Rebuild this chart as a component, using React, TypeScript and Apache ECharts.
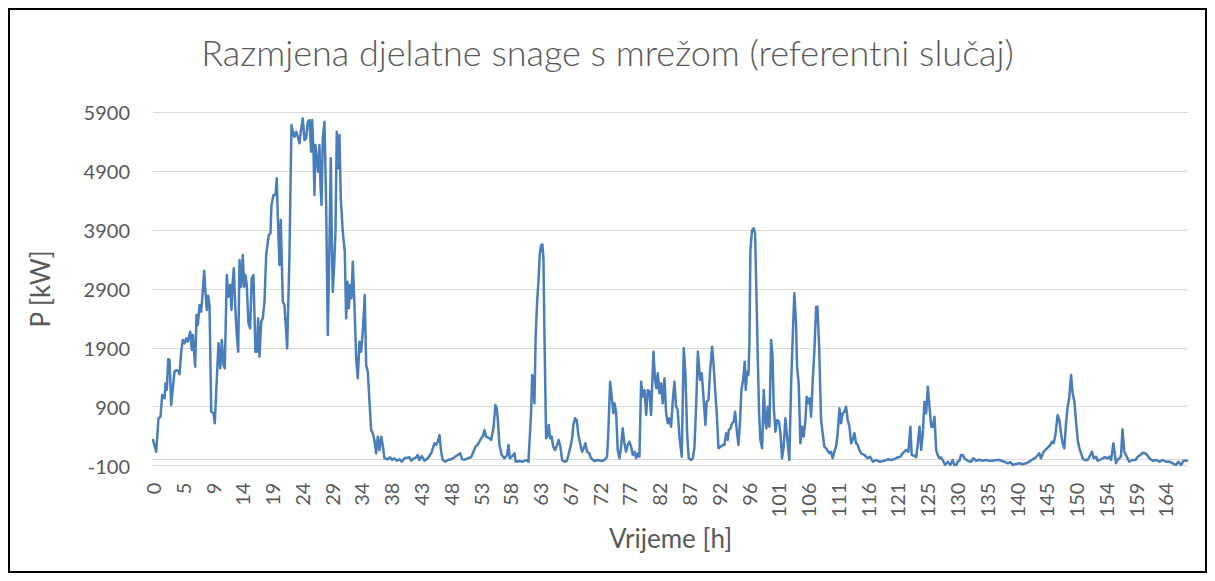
import React, { useEffect, useRef } from 'react';
import * as echarts from 'echarts';

const chartTitle = 'Razmjena djelatne snage s mrežom (referentni slučaj)';
const xAxisTitle = 'Vrijeme [h]';
const yAxisTitle = 'P [kW]';

const xTickLabels = ['0', '5', '9', '14', '19', '24', '29', '34', '38', '43', '48', '53', '58', '63', '67', '72', '77', '82', '87', '92', '96', '101', '106', '111', '116', '121', '125', '130', '135', '140', '145', '150', '154', '159', '164'];
const xTickStepH = 29 / 6;
const xMaxH = 168;
const yMin = -100;
const yMax = 5900;
const yStep = 1000;

// time [h] of each read point
const timeH = [
  0, 0.52, 0.89, 1.22, 1.49, 1.87, 2.03, 2.24, 2.47, 2.68, 2.95, 3.21, 3.49, 3.77, 4.19, 4.3, 4.58, 4.84, 5.11, 5.39,
  5.65, 6.04, 6.3, 6.46, 6.85, 7.06, 7.27, 7.55, 7.82, 8.08, 8.31, 8.52, 8.73, 8.96, 9.17, 9.45, 9.82, 10.03, 10.26, 10.63,
  10.91, 11.17, 11.44, 11.65, 11.98, 12.25, 12.53, 12.74, 12.9, 13.11, 13.39, 13.6, 13.83, 14.04, 14.31, 14.57, 14.8, 15.01, 15.22, 15.5,
  15.77, 16.03, 16.3, 16.63, 16.85, 17.07, 17.28, 17.56, 17.82, 18.1, 18.37, 18.79, 19.07, 19.23, 19.56, 19.88, 20.09, 20.25, 20.53, 20.74,
  21.07, 21.34, 21.78, 22.15, 22.48, 22.69, 22.96, 23.24, 23.5, 23.78, 23.99, 24.31, 24.59, 24.86, 25.12, 25.4, 25.67, 25.84, 26.05, 26.21,
  26.37, 26.58, 26.81, 27.02, 27.18, 27.35, 27.56, 27.83, 28.11, 28.37, 28.64, 28.86, 29.02, 29.18, 29.41, 29.62, 29.83, 30.06, 30.27, 30.48,
  30.8, 31.13, 31.35, 31.57, 31.78, 32.0, 32.21, 32.43, 32.7, 32.98, 33.24, 33.51, 33.78, 34.05, 34.37, 34.6, 34.86, 35.41, 35.67, 35.95,
  36.22, 36.48, 36.76, 37.03, 37.29, 37.57, 38.11, 38.49, 38.82, 39.19, 39.57, 40.0, 40.38, 40.82, 41.63, 41.9, 42.28, 42.71, 42.97, 43.25,
  43.62, 44.06, 44.6, 45.15, 45.69, 45.96, 46.22, 46.5, 46.77, 47.03, 47.47, 47.84, 48.4, 48.93, 49.47, 49.86, 50.18, 50.55, 51.09, 51.64,
  52.01, 52.34, 52.66, 52.99, 53.26, 53.52, 53.8, 54.07, 54.61, 54.88, 55.26, 55.58, 55.8, 55.96, 56.23, 56.61, 57.05, 57.48, 57.7, 57.91,
  58.23, 58.67, 58.88, 59.48, 60.02, 60.57, 60.94, 61.38, 61.54, 61.75, 61.91, 62.12, 62.35, 62.56, 62.77, 63.0, 63.21, 63.38, 63.54, 63.81,
  64.07, 64.23, 64.46, 64.72, 64.95, 65.27, 65.6, 65.86, 66.13, 66.41, 66.78, 67.16, 67.43, 67.76, 68.03, 68.24, 68.52, 68.78, 69.05, 69.38,
  69.65, 69.91, 70.19, 70.46, 70.79, 71.11, 71.65, 72.19, 72.74, 73.27, 73.71, 73.92, 74.2, 74.46, 74.74, 74.9, 75.17, 75.43, 75.71, 75.98,
  76.24, 76.52, 76.79, 77.06, 77.33, 77.61, 77.87, 78.15, 78.42, 78.68, 78.96, 79.23, 79.49, 79.77, 80.05, 80.31, 80.59, 80.85, 81.23, 81.5,
  81.71, 81.93, 82.2, 82.48, 82.74, 83.02, 83.29, 83.55, 83.83, 84.1, 84.36, 84.64, 84.91, 85.17, 85.45, 85.82, 86.15, 86.42, 86.7, 86.96,
  87.35, 87.61, 87.88, 88.16, 88.44, 88.81, 89.07, 89.35, 89.67, 89.88, 90.16, 90.44, 90.76, 90.98, 91.25, 91.51, 91.79, 92.11, 92.48, 92.75,
  93.03, 93.29, 93.45, 93.73, 94.0, 94.26, 94.49, 94.75, 95.03, 95.3, 95.51, 95.79, 96.05, 96.21, 96.43, 96.65, 96.81, 96.97, 97.24, 97.5,
  97.73, 97.94, 98.15, 98.38, 98.59, 98.87, 99.13, 99.41, 99.57, 99.78, 100.06, 100.33, 100.54, 100.76, 101.03, 101.31, 101.6, 101.84, 102.11, 102.37,
  102.65, 102.92, 103.29, 103.57, 103.83, 104.1, 104.38, 104.54, 104.81, 105.08, 105.36, 105.62, 105.9, 106.11, 106.39, 106.6, 106.82, 107.09, 107.36, 107.64,
  107.85, 108.13, 108.44, 108.7, 108.98, 109.25, 109.79, 110.06, 110.33, 110.6, 110.87, 111.14, 111.42, 111.69, 111.95, 112.23, 112.5, 112.77, 113.04, 113.32,
  113.57, 113.85, 114.13, 114.39, 114.66, 114.94, 115.48, 116.01, 116.4, 116.83, 117.38, 117.92, 118.73, 119.27, 119.82, 120.35, 120.87, 121.31, 121.69, 122.24,
  122.61, 122.94, 123.15, 123.5, 123.88, 124.14, 124.42, 124.69, 124.95, 125.23, 125.5, 125.77, 125.99, 126.32, 126.6, 126.85, 127.12, 127.37, 127.65, 127.92,
  128.18, 128.57, 129.0, 129.43, 129.8, 130.08, 130.4, 130.61, 130.89, 131.16, 131.46, 131.7, 132.24, 132.79, 133.16, 133.6, 134.13, 134.67, 135.22, 135.76,
  136.25, 136.84, 137.38, 138.19, 138.73, 139.17, 139.54, 140.09, 140.63, 141.16, 141.71, 142.24, 142.78, 143.33, 143.86, 144.14, 144.56, 145.11, 145.65, 145.92,
  146.2, 146.47, 146.84, 147.12, 147.39, 147.65, 147.93, 148.2, 148.47, 148.74, 149.02, 149.28, 149.56, 149.83, 150.1, 150.37, 150.65, 150.91, 151.19, 151.72,
  152.15, 152.43, 152.69, 153.08, 153.34, 153.89, 154.43, 154.97, 155.24, 155.52, 155.89, 156.14, 156.3, 156.56, 157.11, 157.37, 157.65, 157.92, 158.46, 159.01,
  159.5, 159.83, 160.27, 160.64, 161.03, 161.36, 161.73, 162.26, 162.82, 163.36, 163.89, 164.44, 164.97, 165.51, 166.05, 166.43, 166.86, 167.28, 167.83,
];

// exchanged active power [kW] at each read point
const powerKW = [
  335, 136, 703, 730, 1099, 1043, 1297, 1184, 1710, 1693, 929, 1213, 1494, 1523, 1494, 1450, 1834, 2033, 1977, 2061,
  2004, 2174, 1863, 2118, 1579, 2457, 2287, 2627, 2513, 2853, 3209, 2853, 2542, 2785, 2627, 815, 788, 618, 1155, 1977,
  1552, 2033, 1608, 1552, 3136, 2768, 2967, 2542, 2967, 3250, 2513, 2118, 1834, 3391, 2938, 3476, 2938, 3136, 2967, 2316,
  2231, 3080, 3136, 1834, 1834, 2400, 1750, 2344, 2400, 2683, 3476, 3816, 3844, 4325, 4495, 4495, 4778, 4155, 3306, 4070,
  2683, 2627, 1892, 3476, 5683, 5570, 5485, 5570, 5485, 5373, 5570, 5797, 5429, 5457, 5739, 5768, 5230, 5768, 5230, 4495,
  5344, 5118, 4890, 5344, 4665, 4325, 5458, 5739, 4325, 2118, 3646, 5118, 3760, 2853, 3306, 3872, 5570, 4948, 5514, 4439,
  3872, 3532, 2401, 3023, 2571, 2967, 2741, 3362, 2627, 1722, 1382, 2004, 1834, 2174, 2797, 1608, 1494, 504, 448, 335,
  109, 391, 165, 391, 250, 24, 7, 41, -5, 24, -17, 7, -34, 24, 41, -17, 20, 41, 80, -5,
  63, -17, 24, 109, 279, 250, 306, 420, 136, -5, -34, -5, 7, 41, 80, 109, 7, 0, 24, 41,
  136, 221, 250, 306, 364, 391, 504, 391, 364, 335, 533, 929, 873, 703, 250, 80, 24, 80, 250, 24,
  51, 109, -34, -22, -34, -5, -34, 815, 1438, 1325, 958, 2118, 2683, 3023, 3476, 3646, 3658, 3420, 2118, 364,
  420, 589, 364, 391, 221, 165, 250, 335, 221, -5, -34, -22, 80, 221, 364, 589, 703, 674, 420, 250,
  136, 194, 279, 136, 109, 24, -22, -5, -22, -5, 51, 504, 1325, 1070, 788, 958, 815, 165, 24, 221,
  533, 279, 136, 250, 306, 221, 80, 136, 24, 109, 51, 1325, 1070, 1184, 759, 1184, 1155, 759, 1834, 1353,
  1213, 1467, 1128, 1297, 958, 1382, 788, 618, 703, 561, 985, 1325, 900, 844, 391, 51, 1892, 1467, 448, 24,
  -5, 24, 200, 900, 1834, 1353, 1467, 1070, 589, 985, 1014, 1523, 1919, 1637, 1184, 788, 194, 221, 250, 250,
  448, 335, 504, 533, 618, 646, 815, 504, 250, 674, 1184, 1353, 1664, 1184, 1494, 1438, 1977, 3561, 3901, 3929,
  3844, 2882, 1807, 788, 335, 194, 1184, 618, 533, 900, 561, 2033, 1807, 900, 476, 674, 650, 448, 24, 221,
  703, 391, -5, 1240, 2061, 2826, 2316, 1579, 1297, 279, 561, 391, 674, 1070, 958, 1043, 730, 1353, 1863, 2598,
  2598, 1919, 674, 448, 221, 194, 109, 136, 24, 136, 221, 448, 873, 618, 788, 815, 900, 674, 561, 279,
  335, 448, 279, 250, 165, 109, 80, 24, 51, -34, -5, -34, -17, 7, -5, 10, 41, 51, 109, 165,
  136, 561, 80, 70, 41, 279, 561, 165, 448, 985, 788, 1240, 958, 561, 561, 730, 165, 80, 24, 40,
  -5, -90, -34, -90, -5, -90, -90, -34, -20, 80, 80, 24, -17, -34, 24, -17, 0, -17, -5, -17,
  -17, -5, -5, -34, -61, -40, -90, -73, -61, -78, -61, -34, 7, 41, 109, 24, 136, 194, 250, 306,
  280, 420, 759, 674, 448, 279, 194, 618, 900, 1070, 1438, 1128, 985, 646, 335, 194, 109, 24, -5, -5,
  80, 136, 24, 51, -17, 7, 41, 24, 51, -5, 279, 80, -61, -5, 51, 516, 136, 80, -34, -5,
  -5, 51, 80, 119, 109, 80, 24, -17, -5, -34, -5, -34, -34, -61, -90, -34, -90, -17, -17,
];

const TEXT = '#595959';
const GRID = '#d9d9d9';
const LINE = '#4a7ebb';
const FONT = 'Lato, "Open Sans", sans-serif';

export default function App() {
  const ref = useRef<HTMLDivElement>(null);

  useEffect(() => {
    if (!ref.current) return;
    const chart = echarts.init(ref.current, undefined, { renderer: 'svg' });
    const data = timeH.map((t, i) => [t, powerKW[i]]);
    chart.setOption({
      animation: false,
      backgroundColor: '#ffffff',
      textStyle: { fontFamily: FONT },
      title: {
        text: chartTitle,
        left: 'center',
        top: 19,
        textStyle: { fontFamily: FONT, fontSize: 36, fontWeight: 300, color: TEXT },
      },
      grid: { left: 143, right: 17, top: 102.3, bottom: 105.4, containLabel: false },
      xAxis: {
        type: 'value',
        min: 0,
        max: xMaxH,
        interval: xTickStepH,
        name: xAxisTitle,
        nameLocation: 'middle',
        nameGap: 56,
        nameTextStyle: { fontFamily: FONT, fontSize: 26, fontWeight: 'normal', color: TEXT },
        axisLine: { show: true, onZero: true, lineStyle: { color: GRID, width: 1 } },
        axisTick: { show: false },
        splitLine: { show: false },
        axisLabel: {
          rotate: 90,
          margin: 17,
          fontFamily: FONT,
          fontSize: 20,
          color: TEXT,
          showMaxLabel: false,
          formatter: (v: number) => {
            const i = Math.round(v / xTickStepH);
            if (Math.abs(v - i * xTickStepH) > 0.01) return '';
            return xTickLabels[i] ?? '';
          },
        },
      },
      yAxis: {
        type: 'value',
        min: yMin,
        max: yMax,
        interval: yStep,
        name: yAxisTitle,
        nameLocation: 'middle',
        nameGap: 100,
        nameRotate: 90,
        nameTextStyle: { fontFamily: FONT, fontSize: 26, fontWeight: 'normal', color: TEXT },
        axisLine: { show: false },
        axisTick: { show: false },
        splitLine: { show: true, lineStyle: { color: GRID, width: 1 } },
        axisLabel: {
          margin: 23,
          fontFamily: FONT,
          fontSize: 20,
          color: TEXT,
          formatter: (v: number) => String(v),
        },
      },
      series: [
        {
          type: 'line',
          data,
          showSymbol: false,
          symbol: 'none',
          lineStyle: { color: LINE, width: 2.5, join: 'round', cap: 'round' },
          itemStyle: { color: LINE },
        },
      ],
    });
    return () => chart.dispose();
  }, []);

  return (
    <div
      style={{
        position: 'relative',
        width: 1199,
        height: 565,
        border: '2px solid #000',
        boxSizing: 'border-box',
        background: '#fff',
      }}
    >
      <div ref={ref} style={{ position: 'absolute', left: 0, top: 0, width: '100%', height: '100%' }} />
    </div>
  );
}
